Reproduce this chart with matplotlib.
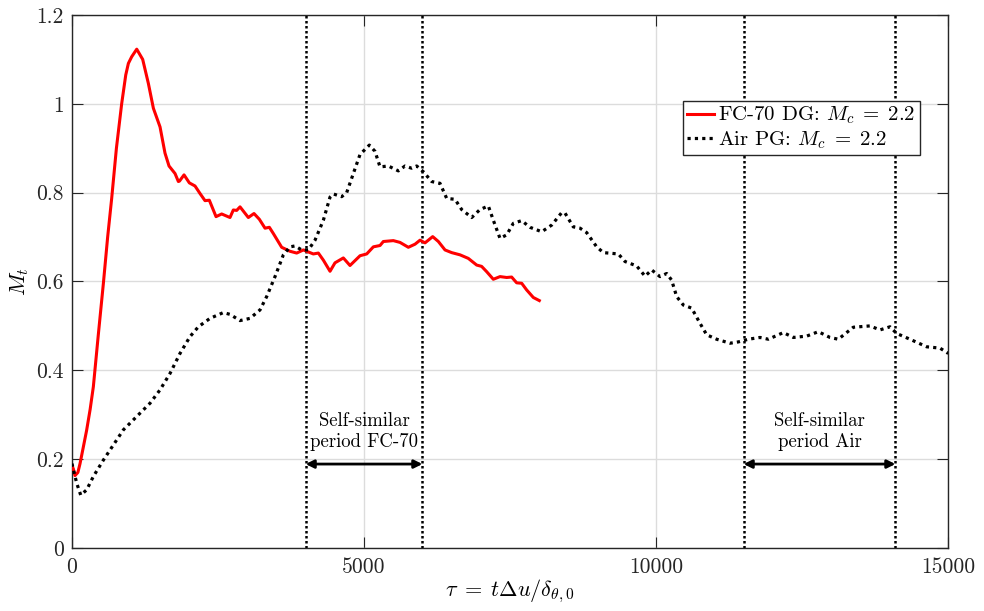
import matplotlib
matplotlib.use("Agg")
import matplotlib.pyplot as plt
import numpy as np

plt.rcParams['font.family'] = ['cmr10', 'DejaVu Serif']
plt.rcParams['mathtext.fontset'] = 'cm'
plt.rcParams['axes.unicode_minus'] = False

# FC-70 DG: Mc = 2.2
fc_x = [0, 23, 51, 100, 137, 190, 250, 310, 365, 450, 537, 610, 679, 760, 850, 920, 965, 1022, 1108, 1210, 1307,
        1393, 1507, 1592, 1661, 1764, 1821, 1840, 1918, 2009, 2106, 2192, 2277, 2351, 2466,
        2563, 2705, 2762, 2819, 2877, 3019, 3116, 3208, 3305, 3379, 3447, 3590, 3733, 3847,
        3961, 4132, 4218, 4304, 4418, 4503, 4646, 4760, 4932, 5046, 5160, 5274, 5331, 5502,
        5616, 5759, 5874, 5959, 6045, 6176, 6273, 6387, 6501, 6644, 6786, 6929, 7014, 7101,
        7214, 7329, 7443, 7528, 7614, 7700, 7785, 7899, 8002]
fc_y = [0.185, 0.178, 0.163, 0.170, 0.19, 0.225, 0.265, 0.312, 0.363, 0.48, 0.596, 0.70, 0.787, 0.90, 1.000,
        1.065, 1.091, 1.106, 1.123, 1.100, 1.046, 0.990, 0.948, 0.889, 0.860, 0.843, 0.825, 0.826, 0.840,
        0.822, 0.815, 0.798, 0.782, 0.783, 0.746, 0.752, 0.744, 0.761, 0.760, 0.768, 0.744,
        0.753, 0.740, 0.720, 0.722, 0.708, 0.677, 0.668, 0.664, 0.671, 0.662, 0.664, 0.648,
        0.623, 0.642, 0.653, 0.636, 0.658, 0.662, 0.678, 0.681, 0.690, 0.692, 0.688, 0.677,
        0.684, 0.693, 0.687, 0.701, 0.690, 0.671, 0.665, 0.660, 0.652, 0.637, 0.634, 0.622,
        0.605, 0.611, 0.609, 0.610, 0.597, 0.596, 0.581, 0.564, 0.557]

# Air PG: Mc = 2.2
air_x = [0, 11, 80, 149, 251, 365, 537, 708, 879, 1107, 1336, 1507, 1678, 1849, 2021, 2163,
         2363, 2591, 2705, 2877, 3048, 3219, 3333, 3476, 3619, 3733, 3819, 3933, 4047, 4161,
         4304, 4418, 4475, 4618, 4703, 4817, 4932, 5091, 5188, 5274, 5417, 5588, 5702, 5816,
         5902, 6016, 6159, 6301, 6416, 6558, 6672, 6844, 6986, 7129, 7214, 7329, 7443, 7557,
         7700, 7842, 8043, 8214, 8385, 8442, 8584, 8699, 8813, 8984, 9098, 9355, 9469, 9669,
         9812, 9926, 10068, 10183, 10268, 10354, 10468, 10611, 10753, 10868, 11039, 11267,
         11410, 11581, 11781, 11924, 12181, 12352, 12580, 12780, 12979, 13122, 13379, 13664,
         13836, 14007, 14121, 14349, 14635, 14863, 15005]
air_y = [0.19, 0.183, 0.146, 0.119, 0.131, 0.161, 0.198, 0.232, 0.266, 0.296, 0.326, 0.356,
         0.393, 0.438, 0.476, 0.498, 0.517, 0.530, 0.526, 0.512, 0.517, 0.536, 0.566, 0.611,
         0.660, 0.678, 0.680, 0.671, 0.671, 0.693, 0.738, 0.790, 0.797, 0.791, 0.800, 0.843,
         0.886, 0.907, 0.893, 0.858, 0.860, 0.849, 0.860, 0.855, 0.860, 0.847, 0.825, 0.821,
         0.787, 0.785, 0.762, 0.744, 0.762, 0.770, 0.738, 0.697, 0.705, 0.731, 0.737, 0.722,
         0.712, 0.727, 0.755, 0.754, 0.723, 0.720, 0.710, 0.678, 0.665, 0.662, 0.645, 0.635,
         0.612, 0.626, 0.611, 0.618, 0.603, 0.566, 0.547, 0.540, 0.506, 0.480, 0.470, 0.461,
         0.464, 0.470, 0.474, 0.470, 0.485, 0.474, 0.477, 0.487, 0.474, 0.470, 0.497, 0.500,
         0.491, 0.498, 0.483, 0.470, 0.453, 0.450, 0.438]

period_lines = [4000, 6000, 11500, 14100]
fc_period = (4000, 6000)
air_period = (11500, 14100)
arrow_y = 0.189

x_ticks = [0, 5000, 10000, 15000]
x_ticklabels = ['0', '5000', '10000', '15000']
y_ticks = [0, 0.2, 0.4, 0.6, 0.8, 1.0, 1.2]
y_ticklabels = ['0', '0.2', '0.4', '0.6', '0.8', '1', '1.2']

fig = plt.figure(figsize=(9.84, 6.11), dpi=100)
ax = fig.add_axes([0.0732, 0.1031, 0.8902, 0.8724])

ax.plot(fc_x, fc_y, color='#ff0000', lw=2.2, label=r'FC-70 DG: $M_c\;=\;2.2$', zorder=4)
ax.plot(air_x, air_y, color='black', lw=2.3, ls=(0, (1, 1.3)), label=r'Air PG: $M_c\;=\;2.2$', zorder=4)

for xv in period_lines:
    ax.axvline(xv, color='black', lw=1.8, ls=(0, (1, 1)), zorder=3)

for (a, b) in [fc_period, air_period]:
    ax.annotate('', xy=(a, arrow_y), xytext=(b, arrow_y),
                arrowprops=dict(arrowstyle='<|-|>', color='black', lw=2,
                                mutation_scale=12, shrinkA=0, shrinkB=0), zorder=5)

ax.text(5000, 0.262, 'Self-similar\nperiod FC-70', ha='center', va='center', fontsize=13.5,
        linespacing=1.2)
ax.text(12800, 0.262, 'Self-similar\nperiod Air', ha='center', va='center', fontsize=13.5,
        linespacing=1.2)

ax.set_xlim(0, 15000)
ax.set_ylim(0, 1.2)
ax.set_xticks(x_ticks)
ax.set_xticklabels(x_ticklabels)
ax.set_yticks(y_ticks)
ax.set_yticklabels(y_ticklabels)
ax.tick_params(direction='in', top=True, right=True, labelsize=15.5, length=8,
               color='#262626', labelcolor='#262626', pad=6)
ax.tick_params(axis='x', pad=7)
ax.grid(True, color='#dcdcdc', lw=1, zorder=0)
ax.set_axisbelow(True)
for s in ax.spines.values():
    s.set_color('#262626')
    s.set_linewidth(1)

ax.set_xlabel(r'$\tau\;=\;t\Delta u/\delta_{\theta,0}$', fontsize=16, labelpad=0)
ax.set_ylabel(r'$M_t$', fontsize=16, labelpad=4)

leg = ax.legend(loc='upper right', bbox_to_anchor=(0.968, 0.839), fontsize=15,
                frameon=True, fancybox=False, edgecolor='#262626', framealpha=1,
                handlelength=1.3, handletextpad=0.2, borderpad=0.2, labelspacing=0.15,
                borderaxespad=0)
leg.get_frame().set_linewidth(1)

fig.savefig('out.png', dpi=100)
